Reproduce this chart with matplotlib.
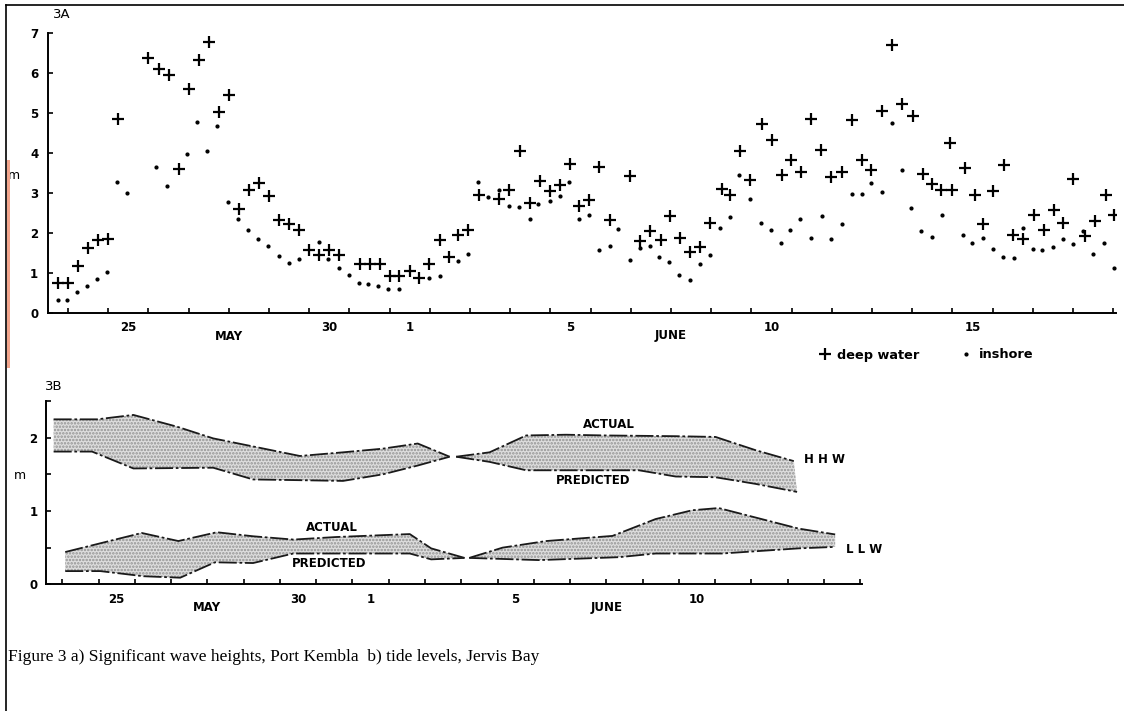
import numpy as np
import matplotlib
matplotlib.use('Agg')
import matplotlib.pyplot as plt
from matplotlib.lines import Line2D
from matplotlib.patches import Rectangle

# ---- 3A: significant wave heights (time in days from 25 May 00:00)
deep_t = [-1.25, -1.0, -0.75, -0.5, -0.25, 0.0, 0.25, 1.0, 1.25, 1.5, 1.75, 2.0, 2.25, 2.5,
          2.75, 3.0, 3.25, 3.5, 3.75, 4.0, 4.25, 4.5, 4.75, 5.0, 5.25, 5.5, 5.75, 6.25, 6.5,
          6.75, 7.0, 7.22, 7.5, 7.74, 7.98, 8.24, 8.48, 8.71, 8.96, 9.23, 9.71, 9.98, 10.25,
          10.5, 10.73, 10.98, 11.23, 11.48, 11.7, 11.97, 12.21, 12.47, 12.97, 13.23, 13.48,
          13.75, 13.98, 14.23, 14.48, 14.73, 14.98, 15.27, 15.47, 15.72, 15.97, 16.26, 16.51,
          16.76, 16.99, 17.24, 17.49, 17.74, 17.98, 18.25, 18.5, 18.76, 18.98, 19.26, 19.49,
          19.74, 20.01, 20.26, 20.49, 20.72, 20.95, 21.0, 21.32, 21.55, 21.77, 22.01, 22.29,
          22.5, 22.75, 23.02, 23.27, 23.52, 23.75, 24.01, 24.29, 24.54, 24.82, 25.02]
deep_h = [0.75, 0.75, 1.17, 1.62, 1.82, 1.85, 4.86, 6.37, 6.10, 5.96, 3.61, 5.60, 6.32, 6.78,
          5.02, 5.46, 2.61, 3.07, 3.25, 2.92, 2.33, 2.22, 2.07, 1.57, 1.46, 1.58, 1.44, 1.22,
          1.22, 1.22, 0.92, 0.92, 1.04, 0.88, 1.22, 1.83, 1.40, 1.95, 2.07, 2.96, 2.86, 3.07,
          4.06, 2.75, 3.29, 3.06, 3.19, 3.72, 2.68, 2.82, 3.65, 2.32, 3.42, 1.79, 2.04, 1.83,
          2.42, 1.87, 1.52, 1.65, 2.25, 3.11, 2.94, 4.06, 3.33, 4.73, 4.33, 3.44, 3.83, 3.53,
          4.86, 4.07, 3.39, 3.53, 4.83, 3.83, 3.57, 5.04, 6.69, 5.22, 4.92, 3.48, 3.23, 3.07,
          4.25, 3.08, 3.63, 2.96, 2.23, 3.06, 3.69, 1.94, 1.86, 2.44, 2.08, 2.58, 2.25, 3.36,
          1.92, 2.31, 2.94, 2.46]

shore_t = [-1.26, -1.03, -0.78, -0.53, -0.27, -0.03, 0.22, 0.47, 1.19, 1.46, 1.96, 2.21, 2.46,
           2.7, 2.97, 3.23, 3.47, 3.72, 3.97, 4.24, 4.5, 4.75, 5.23, 5.47, 5.74, 5.98, 6.23,
           6.47, 6.72, 6.97, 7.22, 7.97, 8.24, 8.71, 8.96, 9.2, 9.45, 9.71, 9.96, 10.23, 10.48,
           10.7, 10.98, 11.23, 11.45, 11.7, 11.95, 12.22, 12.47, 12.69, 12.97, 13.22, 13.47,
           13.71, 13.96, 14.21, 14.48, 14.71, 14.96, 15.22, 15.46, 15.7, 15.97, 16.24, 16.48,
           16.73, 16.97, 17.21, 17.49, 17.75, 17.98, 18.25, 18.5, 18.75, 18.98, 19.25, 19.49,
           19.74, 19.98, 20.22, 20.49, 20.74, 21.26, 21.48, 21.76, 22.0, 22.26, 22.52, 22.75,
           23.0, 23.24, 23.5, 23.75, 24.0, 24.26, 24.49, 24.78, 25.02]
shore_h = [0.33, 0.32, 0.53, 0.67, 0.85, 1.03, 3.28, 3.00, 3.64, 3.18, 3.98, 4.78, 4.06,
           4.67, 2.78, 2.36, 2.08, 1.86, 1.67, 1.42, 1.25, 1.35, 1.77, 1.35, 1.12, 0.94, 0.75,
           0.73, 0.67, 0.60, 0.60, 0.88, 0.92, 1.29, 1.47, 3.28, 2.89, 3.08, 2.67, 2.64, 2.36,
           2.73, 2.79, 2.92, 3.28, 2.35, 2.46, 1.57, 1.67, 2.10, 1.33, 1.62, 1.67, 1.39, 1.27,
           0.96, 0.83, 1.23, 1.44, 2.13, 2.40, 3.46, 2.85, 2.24, 2.07, 1.75, 2.07, 2.35, 1.87,
           2.42, 1.85, 2.22, 2.98, 2.98, 3.25, 3.02, 4.75, 3.57, 2.62, 2.04, 1.90, 2.45, 1.94,
           1.74, 1.87, 1.61, 1.39, 1.37, 2.13, 1.61, 1.58, 1.65, 1.85, 1.73, 2.05, 1.47, 1.74,
           1.12]

# ---- 3B: tide levels, actual vs predicted (two segments each)
hhw1_act_t = [-1.24, -0.04, 0.96, 2.16, 3.16, 4.26, 5.55, 6.74, 7.84, 8.80, 9.68]
hhw1_act = [2.25, 2.25, 2.31, 2.15, 1.99, 1.88, 1.75, 1.80, 1.85, 1.92, 1.74]
hhw1_pre_t = [-1.24, -0.18, 0.96, 3.16, 4.26, 5.55, 6.74, 7.84, 8.80, 9.68]
hhw1_pre = [1.81, 1.81, 1.58, 1.59, 1.43, 1.42, 1.41, 1.50, 1.62, 1.74]
hhw2_act_t = [9.86, 10.78, 11.79, 12.89, 13.99, 15.91, 17.01, 18.11, 19.17]
hhw2_act = [1.74, 1.80, 2.03, 2.04, 2.03, 2.02, 2.01, 1.83, 1.68]
hhw2_pre_t = [9.86, 10.78, 11.79, 14.90, 15.91, 17.01, 18.11, 19.26]
hhw2_pre = [1.74, 1.67, 1.555, 1.555, 1.47, 1.46, 1.37, 1.26]

llw1_act_t = [-0.92, 1.19, 2.20, 3.26, 4.26, 5.37, 6.56, 8.58, 9.17, 10.09]
llw1_act = [0.44, 0.70, 0.59, 0.71, 0.655, 0.61, 0.645, 0.685, 0.49, 0.36]
llw1_pre_t = [-0.92, 0.05, 1.24, 2.25, 3.21, 4.26, 5.37, 8.58, 9.17, 10.09]
llw1_pre = [0.18, 0.18, 0.11, 0.09, 0.30, 0.29, 0.42, 0.42, 0.34, 0.36]
llw2_act_t = [10.22, 11.14, 12.34, 14.17, 15.36, 16.37, 17.10, 19.30, 20.31]
llw2_act = [0.36, 0.50, 0.59, 0.66, 0.89, 1.01, 1.04, 0.76, 0.68]
llw2_pre_t = [10.22, 12.15, 14.35, 15.36, 17.19, 19.30, 20.31]
llw2_pre = [0.36, 0.33, 0.37, 0.42, 0.42, 0.49, 0.51]

# tick labels sit in the middle of each day
label_pos_a = [0.5, 5.5, 7.5, 11.5, 16.5, 21.5]
label_txt_a = ['25', '30', '1', '5', '10', '15']
label_pos_b = [0.5, 5.5, 7.5, 11.5, 16.5]
label_txt_b = ['25', '30', '1', '5', '10']

plt.rcParams['font.family'] = 'DejaVu Sans'
plt.rcParams['hatch.linewidth'] = 1.2
plt.rcParams['hatch.color'] = '#9a9a9a'

W, H = 1124, 711
fig = plt.figure(figsize=(W / 100, H / 100), dpi=100)


def style_axis(ax, day_max, pos, txt):
    for s in ['top', 'right']:
        ax.spines[s].set_visible(False)
    for s in ['left', 'bottom']:
        ax.spines[s].set_linewidth(1.4)
    ax.set_xticks(np.arange(-1, day_max + 1))
    ax.set_xticks(pos, minor=True)
    ax.set_xticklabels(txt, minor=True, fontsize=8.5, fontweight='bold')
    ax.tick_params(axis='x', which='major', direction='in', length=3.5, width=1.2,
                   labelbottom=False)
    ax.tick_params(axis='x', which='minor', length=0, pad=6)
    ax.tick_params(axis='y', which='both', direction='in', length=3.5, width=1.2)
    for lab in ax.get_yticklabels():
        lab.set_fontweight('bold')
        lab.set_fontsize(8.5)


# ---------- 3A ----------
ax1 = fig.add_axes([48 / W, 1 - 313 / H, 1068 / W, 280 / H])
ax1.plot(deep_t, deep_h, linestyle='none', marker='+', ms=8, mew=1.6, color='black',
         label='deep water')
ax1.plot(shore_t, shore_h, linestyle='none', marker='o', ms=2, color='black',
         label='inshore')
ax1.set_xlim(-1.5, 25.07)
ax1.set_ylim(0, 7)
ax1.set_yticks(range(0, 8))
style_axis(ax1, 25, label_pos_a, label_txt_a)
ax1.tick_params(axis='y', pad=7)
ax1.set_ylabel('m', rotation=0, fontsize=9, va='center', ha='center')
ax1.yaxis.set_label_coords(-0.032, 0.49)
ax1.text(3.0, -0.085, 'MAY', transform=ax1.get_xaxis_transform(), ha='center',
         va='center', fontsize=8.5, fontweight='bold')
ax1.text(14.0, -0.082, 'JUNE', transform=ax1.get_xaxis_transform(), ha='center',
         va='center', fontsize=8.5, fontweight='bold')
fig.text(53 / W, 1 - 15 / H, '3A', fontsize=9.5, va='center')
fig.legend(*ax1.get_legend_handles_labels(), loc='center left',
           bbox_to_anchor=(809 / W, 1 - 355 / H), ncol=2, frameon=False,
           handlelength=0.6, handletextpad=0.7, columnspacing=3.3,
           prop={'size': 9.3, 'weight': 'bold'})

# ---------- 3B ----------
ax2 = fig.add_axes([46 / W, 1 - 584.3 / H, 816 / W, 183.3 / H])
band_ls = (0, (10, 1.5, 1.5, 1.5))
bands = [(hhw1_act_t, hhw1_act, hhw1_pre_t, hhw1_pre),
         (hhw2_act_t, hhw2_act, hhw2_pre_t, hhw2_pre),
         (llw1_act_t, llw1_act, llw1_pre_t, llw1_pre),
         (llw2_act_t, llw2_act, llw2_pre_t, llw2_pre)]
for at, av, pt, pv in bands:
    xs = list(at) + list(pt[::-1])
    ys = list(av) + list(pv[::-1])
    ax2.fill(xs, ys, facecolor='#dedede', edgecolor='#939393', linewidth=0, hatch='.....')
    ax2.plot(at, av, color='#1a1a1a', lw=1.3, linestyle=band_ls)
    ax2.plot(pt, pv, color='#1a1a1a', lw=1.3, linestyle=band_ls)
ax2.set_xlim(-1.45, 21.05)
ax2.set_ylim(0, 2.5)
ax2.set_yticks([0, 1, 2])
ax2.set_yticks([0.5, 1.5, 2.5], minor=True)
style_axis(ax2, 21, label_pos_b, label_txt_b)
ax2.tick_params(axis='y', pad=6)
ax2.set_ylabel('m', rotation=0, fontsize=9, va='center', ha='center')
ax2.yaxis.set_label_coords(-0.032, 0.596)
ax2.text(3.0, -0.128, 'MAY', transform=ax2.get_xaxis_transform(), ha='center',
         va='center', fontsize=8.5, fontweight='bold')
ax2.text(14.0, -0.125, 'JUNE', transform=ax2.get_xaxis_transform(), ha='center',
         va='center', fontsize=8.5, fontweight='bold')
lab_kw = dict(fontsize=8.5, fontweight='bold', va='center')
ax2.text(14.07, 2.18, 'ACTUAL', ha='center', **lab_kw)
ax2.text(13.64, 1.41, 'PREDICTED', ha='center', **lab_kw)
ax2.text(6.42, 0.78, 'ACTUAL', ha='center', **lab_kw)
ax2.text(6.35, 0.29, 'PREDICTED', ha='center', **lab_kw)
ax2.text(19.44, 1.70, 'H H W', ha='left', **lab_kw)
ax2.text(20.62, 0.48, 'L L W', ha='left', **lab_kw)
fig.text(45 / W, 1 - 387 / H, '3B', fontsize=9.5, va='center')

# caption
fig.text(8 / W, 1 - 657 / H, 'Figure 3 a) Significant wave heights, Port Kembla  b) tide levels, Jervis Bay',
         family='Liberation Serif', fontsize=12.5, va='center', ha='left')

# page frame from the scanned document
fig.add_artist(Line2D([6 / W, 6 / W], [0, 1 - 5 / H], color='black', lw=1.2))
fig.add_artist(Line2D([6 / W, 1], [1 - 5 / H, 1 - 5 / H], color='black', lw=1.2))
fig.add_artist(Rectangle((7 / W, 1 - 368 / H), 3 / W, 208 / H, color='#f2a58c', lw=0))

fig.savefig('out.png', dpi=100)
